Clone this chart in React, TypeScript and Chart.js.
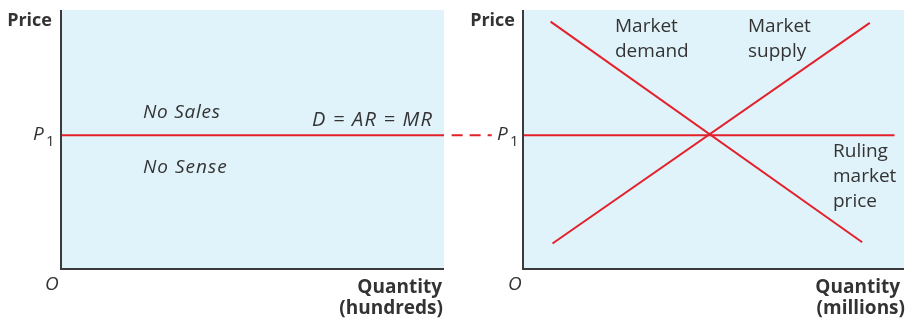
import React, { useEffect, useRef } from "react";
import { Chart, registerables } from "chart.js";
Chart.register(...registerables);

// ---- data (model units: quantity 0..10, price 0..10) ----
const P1 = 5.15;
const firmQuantity = [0, 10];
const firmPrice = [P1, P1];
const linkQuantity = [10.2, 11.25];
const linkPrice = [P1, P1];
const demandQuantity = [0.7, 8.9];
const demandPrice = [9.55, 1.0];
const supplyQuantity = [0.75, 9.1];
const supplyPrice = [0.95, 9.5];
const rulingQuantity = [0, 9.75];
const rulingPrice = [P1, P1];

const priceLabel = "Price";
const originLabel = "O";
const firmQtyLabel = ["Quantity", "(hundreds)"];
const marketQtyLabel = ["Quantity", "(millions)"];
const firmCurveLabel = "D = AR = MR";
const aboveLabel = "No Sales";
const belowLabel = "No Sense";
const demandLabel = ["Market", "demand"];
const supplyLabel = ["Market", "supply"];
const rulingLabel = ["Ruling", "market", "price"];

const RED = "#e3212b";
const TEXT = "#333333";
const BG = "#e0f2fa";
const AXIS = "#3a3a3a";
const FONT = "'Open Sans', sans-serif";

const pts = (xs: number[], ys: number[]) => xs.map((x, i) => ({ x, y: ys[i] }));

function text(
  ctx: CanvasRenderingContext2D,
  s: string,
  x: number,
  y: number,
  font: string,
  align: CanvasTextAlign = "left",
  spacing = 0
) {
  ctx.font = font;
  ctx.textAlign = align;
  ctx.textBaseline = "alphabetic";
  ctx.fillStyle = TEXT;
  (ctx as any).letterSpacing = spacing + "px";
  ctx.fillText(s, x, y);
  (ctx as any).letterSpacing = "0px";
}

function drawP1(ctx: CanvasRenderingContext2D, x: number, y: number) {
  text(ctx, "P", x, y, `italic 19px ${FONT}`);
  text(ctx, "1", x + 13, y + 6, `15px ${FONT}`);
}

function panelPlugin(offset: number, draw: (ctx: CanvasRenderingContext2D, chart: any) => void) {
  return {
    id: "panel" + offset,
    beforeDraw(chart: any) {
      const { ctx, chartArea: a } = chart;
      ctx.save();
      ctx.fillStyle = BG;
      ctx.fillRect(a.left, a.top, a.right - a.left, a.bottom - a.top);
      ctx.restore();
    },
    afterDraw(chart: any) {
      const { ctx, chartArea: a } = chart;
      ctx.save();
      ctx.strokeStyle = AXIS;
      ctx.lineWidth = 2;
      ctx.beginPath();
      ctx.moveTo(a.left - 1, a.top);
      ctx.lineTo(a.left - 1, a.bottom + 1);
      ctx.lineTo(a.right, a.bottom + 1);
      ctx.stroke();
      ctx.translate(-offset, 0);
      draw(ctx, chart);
      ctx.restore();
    },
  };
}

function makeChart(canvas: HTMLCanvasElement, datasets: any[], padding: any, plugin: any) {
  return new Chart(canvas, {
    type: "scatter",
    data: { datasets },
    options: {
      responsive: false,
      animation: false,
      devicePixelRatio: 1,
      layout: { padding },
      plugins: { legend: { display: false }, tooltip: { enabled: false } },
      scales: {
        x: { type: "linear", min: 0, max: 10, display: false },
        y: { type: "linear", min: 0, max: 10, display: false },
      },
      elements: { point: { radius: 0 } },
    },
    plugins: [plugin],
  });
}

const line = (data: any[], extra: any = {}) => ({
  data,
  showLine: true,
  borderColor: RED,
  borderWidth: 2,
  pointRadius: 0,
  ...extra,
});

export default function App() {
  const leftRef = useRef<HTMLCanvasElement>(null);
  const rightRef = useRef<HTMLCanvasElement>(null);

  useEffect(() => {
    const leftOffset = 0;
    const rightOffset = 455;
    const left = makeChart(
      leftRef.current!,
      [
        line(pts(firmQuantity, firmPrice)),
        line(pts(linkQuantity, linkPrice), { borderDash: [11, 7], clip: false }),
      ],
      { left: 62, right: 500 - 444, top: 10, bottom: 323 - 268 },
      panelPlugin(leftOffset, (ctx, chart) => {
        const yP = chart.scales.y.getPixelForValue(P1);
        text(ctx, priceLabel, 52, 26, `bold 18px ${FONT}`, "right");
        drawP1(ctx, 33, yP + 5);
        text(ctx, originLabel, 45, 290, `italic 19px ${FONT}`);
        text(ctx, aboveLabel, 143, 118, `italic 19px ${FONT}`, "left", 0.75);
        text(ctx, belowLabel, 143, 173, `italic 19px ${FONT}`, "left", 1.0);
        text(ctx, firmCurveLabel, 312, 126, `italic 20px ${FONT}`, "left", 1.2);
        text(ctx, firmQtyLabel[0], 442, 293, `bold 19px ${FONT}`, "right");
        text(ctx, firmQtyLabel[1], 443, 314, `bold 19px ${FONT}`, "right");
      })
    );
    const right = makeChart(
      rightRef.current!,
      [
        line(pts(rulingQuantity, rulingPrice)),
        line(pts(demandQuantity, demandPrice)),
        line(pts(supplyQuantity, supplyPrice)),
      ],
      { left: 524 - rightOffset, right: 1, top: 10, bottom: 323 - 268 },
      panelPlugin(rightOffset, (ctx, chart) => {
        const yP = chart.scales.y.getPixelForValue(P1);
        text(ctx, priceLabel, 515, 26, `bold 18px ${FONT}`, "right");
        drawP1(ctx, 497, yP + 5);
        text(ctx, originLabel, 508, 290, `italic 19px ${FONT}`);
        demandLabel.forEach((s, i) => text(ctx, s, 615, 32 + i * 25, `19px ${FONT}`));
        supplyLabel.forEach((s, i) => text(ctx, s, 748, 32 + i * 25, `19px ${FONT}`));
        rulingLabel.forEach((s, i) => text(ctx, s, 833, 157 + i * 25, `19px ${FONT}`));
        text(ctx, marketQtyLabel[0], 900, 293, `bold 19px ${FONT}`, "right");
        text(ctx, marketQtyLabel[1], 905, 314, `bold 19px ${FONT}`, "right");
      })
    );
    return () => {
      left.destroy();
      right.destroy();
    };
  }, []);

  return (
    <div style={{ position: "fixed", left: 0, top: 0, width: 905, height: 323, background: "#fff" }}>
      <canvas ref={leftRef} width={500} height={323} style={{ position: "absolute", left: 0, top: 0, width: 500, height: 323 }} />
      <canvas ref={rightRef} width={450} height={323} style={{ position: "absolute", left: 455, top: 0, width: 450, height: 323 }} />
    </div>
  );
}
